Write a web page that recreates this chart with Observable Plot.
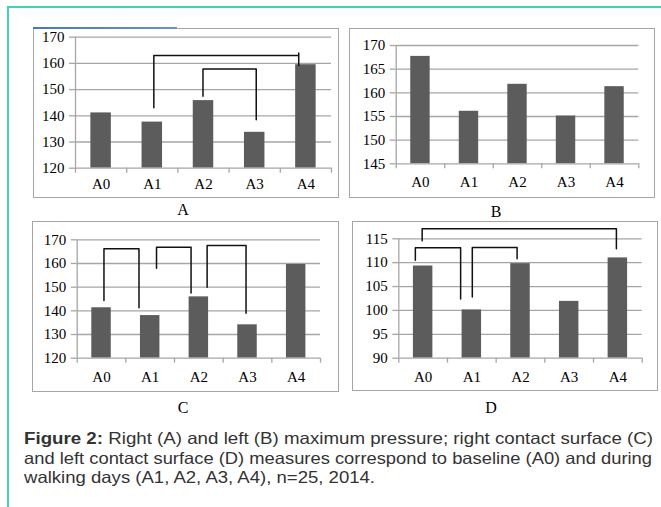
<!DOCTYPE html>
<html><head><meta charset="utf-8">
<script src="https://cdn.jsdelivr.net/npm/d3@7"></script>
<script src="https://cdn.jsdelivr.net/npm/@observablehq/plot@0.6"></script>
<style>
html,body{margin:0;padding:0;background:#fff;}
#page{position:relative;width:661px;height:507px;overflow:hidden;background:#fff;}
.frameL{position:absolute;left:7px;top:6px;width:2px;height:501px;background:#45d1b8;}
.frameT{position:absolute;left:7px;top:6px;width:654px;height:2px;background:#45d1b8;}
.box{position:absolute;border:1px solid #a6a6a6;box-sizing:border-box;}
.panel{position:absolute;}
.panel svg{overflow:visible;}
.ptitle{position:absolute;font-family:"Liberation Serif","Times New Roman",serif;font-size:16px;color:#000;transform:translate(-50%,-50%);line-height:1;}
#caption{position:absolute;left:24px;top:429px;font-family:"Liberation Sans",Arial,sans-serif;font-size:16.5px;color:#333;line-height:19.5px;white-space:nowrap;}
#caption .ln{display:block;width:max-content;transform-origin:0 0;}
#caption b{color:#333;}
.blueline{position:absolute;left:33px;top:27px;width:144px;height:2px;background:linear-gradient(90deg,#4a78b8,#6b93c9);}
</style>
</head><body>
<div id="page">
  <div class="frameT"></div>
  <div class="frameL"></div>
  <div id="caption"><span class="ln"><b>Figure 2:</b> Right (A) and left (B) maximum pressure; right contact surface (C)</span><span class="ln">and left contact surface (D) measures correspond to baseline (A0) and during</span><span class="ln">walking days (A1, A2, A3, A4), n=25, 2014.</span></div>
</div>
<script>
// ---- data ----
const categories = ["A0", "A1", "A2", "A3", "A4"];
const valuesA = [141.1, 137.6, 145.8, 133.7, 159.5];
const valuesB = [167.7, 156.1, 161.8, 155.1, 161.3];
const valuesC = [141.3, 138.0, 145.9, 134.1, 159.6];
const valuesD = [109.3, 100.1, 109.8, 101.9, 111.0];
const ticksA = [120, 130, 140, 150, 160, 170];
const ticksB = [145, 150, 155, 160, 165, 170];
const ticksC = [120, 130, 140, 150, 160, 170];
const ticksD = [90, 95, 100, 105, 110, 115];
const panelTitles = ["A", "B", "C", "D"];
// significance brackets: leg x positions (category units), top, leg ends
const bracketsA = [
  {x1: 1.03, x2: 3.86, top: 163.0, y1: 143.1, y2: 159.2, over: 164.0},
  {x1: 1.99, x2: 3.03, top: 157.9, y1: 147.5, y2: 138.5}
];
const bracketsB = [];
const bracketsC = [
  {x1: 0.05, x2: 0.77, top: 166.2, y1: 144.4, y2: 141.3},
  {x1: 1.13, x2: 1.84, top: 166.9, y1: 158.0, y2: 147.5},
  {x1: 2.17, x2: 2.97, top: 167.6, y1: 150.0, y2: 139.0}
];
const bracketsD = [
  {x1: -0.02, x2: 3.97, top: 117.1, y1: 114.6, y2: 112.9},
  {x1: -0.16, x2: 0.77, top: 113.1, y1: 110.5, y2: 102.4},
  {x1: 1.01, x2: 1.93, top: 113.2, y1: 102.8, y2: 110.8}
];

// ---- layout (page pixels) ----
const layouts = [
  {box: [33, 28, 339, 198], px: [75, 331], py: [36.7, 167.7], title: [183, 210], pad: 10.5},
  {box: [349, 28, 655, 198], px: [395.7, 638.3], py: [45, 163.3], title: [496, 211.5], pad: 12.5},
  {box: [32, 221, 339, 392], px: [76.7, 320], py: [239.3, 357.7], title: [183, 408], pad: 13},
  {box: [352, 221, 658, 391], px: [398.3, 641.7], py: [238.3, 357.7], title: [491, 408], pad: 13}
];
const captionWidths = [629, 628, 351];

const page = document.getElementById("page");
const gray = "#a6a6a6";
const barColor = "#5c5c5c";
const fontSerif = '"Liberation Serif","Times New Roman",serif';

function makePanel(values, ticks, brackets, L, title) {
  const [l, t, r, b] = L.box;
  const width = r - l, height = b - t;
  const rows = values.map((v, i) => ({i, v, c: categories[i]}));
  const pts = [];
  brackets.forEach((k, j) => {
    pts.push({id: j, x: k.x1, y: k.y1});
    pts.push({id: j, x: k.x1, y: k.top});
    pts.push({id: j, x: k.x2, y: k.top});
    if (k.over != null) pts.push({id: j, x: k.x2, y: k.over});
    pts.push({id: j, x: k.x2, y: k.y2});
  });
  const ymin = ticks[0];
  const bounds = d3.range(categories.length + 1).map(i => i - 0.5);
  const chart = Plot.plot({
    width, height,
    marginLeft: L.px[0] - l,
    marginRight: r - L.px[1],
    marginTop: L.py[0] - t,
    marginBottom: b - L.py[1],
    x: {domain: [-0.5, categories.length - 0.5], axis: null},
    y: {domain: [ymin, ticks[ticks.length - 1]], axis: null},
    style: {fontFamily: fontSerif, fontSize: "15px", color: "#000", background: "transparent", overflow: "visible"},
    marks: [
      Plot.ruleY(ticks.slice(1), {stroke: gray, strokeWidth: 1.3, strokeOpacity: 1}),
      Plot.rectY(rows, {x1: d => d.i - 0.2, x2: d => d.i + 0.2, y1: ymin, y2: "v", fill: barColor}),
      Plot.ruleX([-0.5], {stroke: gray, strokeWidth: 1.3}),
      Plot.ruleY([ymin], {stroke: gray, strokeWidth: 1.3}),
      Plot.axisY({ticks, label: null, tickSize: 6, tickPadding: 5, stroke: gray, strokeWidth: 1.3, fill: "#000", fontSize: 15, fontFamily: fontSerif}),
      Plot.axisX({ticks: bounds, label: null, tickSize: 5, tickFormat: () => "", stroke: gray, strokeWidth: 1.3}),
      Plot.axisX({ticks: d3.range(categories.length), label: null, tickSize: 0, tickPadding: L.pad, tickFormat: i => categories[i], fill: "#000", fontSize: 15, fontFamily: fontSerif}),
      Plot.line(pts, {x: "x", y: "y", z: "id", stroke: "#111", strokeWidth: 1.5, curve: "linear"})
    ]
  });
  const box = document.createElement("div");
  box.className = "box";
  Object.assign(box.style, {left: l + "px", top: t + "px", width: width + "px", height: height + "px"});
  page.appendChild(box);
  const holder = document.createElement("div");
  holder.className = "panel";
  Object.assign(holder.style, {left: l + "px", top: t + "px", width: width + "px", height: height + "px"});
  holder.appendChild(chart);
  page.appendChild(holder);
  const tt = document.createElement("div");
  tt.className = "ptitle";
  tt.textContent = title;
  Object.assign(tt.style, {left: L.title[0] + "px", top: L.title[1] + "px"});
  page.appendChild(tt);
}

makePanel(valuesA, ticksA, bracketsA, layouts[0], panelTitles[0]);
makePanel(valuesB, ticksB, bracketsB, layouts[1], panelTitles[1]);
makePanel(valuesC, ticksC, bracketsC, layouts[2], panelTitles[2]);
makePanel(valuesD, ticksD, bracketsD, layouts[3], panelTitles[3]);

const bl = document.createElement("div");
bl.className = "blueline";
page.appendChild(bl);

// fit each caption line to the reference line widths
document.querySelectorAll("#caption .ln").forEach((el, i) => {
  const w = el.getBoundingClientRect().width;
  el.style.transform = `scaleX(${captionWidths[i] / w})`;
});
</script>
</body></html>
